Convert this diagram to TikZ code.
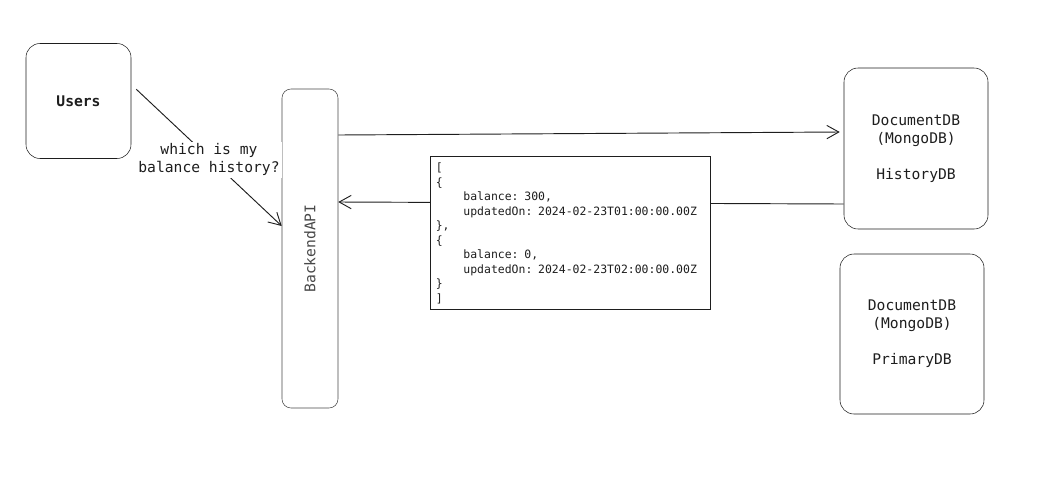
\documentclass[tikz,border=0pt]{standalone}
\usepackage{fontspec}
\setmonofont{DejaVu Sans Mono}
\usetikzlibrary{arrows.meta,calc}
\definecolor{ink}{HTML}{1E1E1E}
\definecolor{soft}{HTML}{484848}
\tikzset{
	box/.style={draw=ink, rounded corners=10.5pt, fill=white, align=center,
		font=\ttfamily\fontsize{11}{13.5}\selectfont, text=ink},
	json/.style={draw=ink, fill=white, align=left, inner sep=0pt,
		minimum width=210pt, minimum height=114.75pt, text width=202.5pt,
		font=\ttfamily\fontsize{8.6}{10.9}\selectfont, text=ink},
	arr/.style={draw=ink, line width=0.7pt, -{Straight Barb[length=9pt,width=10pt]}}
}
\begin{document}
\begin{tikzpicture}[x=0.75pt,y=-0.75pt]
	\useasboundingbox (0,0) rectangle (1053,490);
	% boxes
	\node [box, minimum width=78.75pt, minimum height=86.25pt] (users) at (78.5,101)
		{\bfseries Users};
	\node [box, draw=soft, rounded corners=6.75pt, minimum width=42pt, minimum height=239.25pt] (api) at (310,248.5) {};
	\node [rotate=90, font=\ttfamily\fontsize{11}{13.5}\selectfont, text=soft] (apilabel) at (api.center) {BackendAPI};
	\node [box, minimum width=108pt, minimum height=120.75pt] (hist) at (916,148.5)
		{DocumentDB\\(MongoDB)\\[13.5pt]HistoryDB};
	\node [box, minimum width=108pt, minimum height=120pt] (prim) at (912,334)
		{DocumentDB\\(MongoDB)\\[13.5pt]PrimaryDB};
	% connectors
	\draw [arr] ($(users.north east)+(5,46)$) -- (api.west |- 0,226)
		node [midway, fill=white, inner sep=1.5pt, align=center, yshift=-1.5pt,
			font=\ttfamily\fontsize{11}{13.5}\selectfont, text=ink] (ask)
		{which is my\\balance history?};
	\draw [arr] (api.east |- 0,135) -- ([xshift=-3pt]hist.west |- 0,132);
	\draw [arr] (hist.west |- 0,204) -- (api.east |- 0,202)
		node [pos=0.54, json, yshift=-22.9pt] (json) {%
[\\
\{\\
\phantom{0000}balance: 300,\\
\phantom{0000}updatedOn: 2024-02-23T01:00:00.00Z\\
\},\\
\{\\
\phantom{0000}balance: 0,\\
\phantom{0000}updatedOn: 2024-02-23T02:00:00.00Z\\
\}\\
]};
\end{tikzpicture}
\end{document}
